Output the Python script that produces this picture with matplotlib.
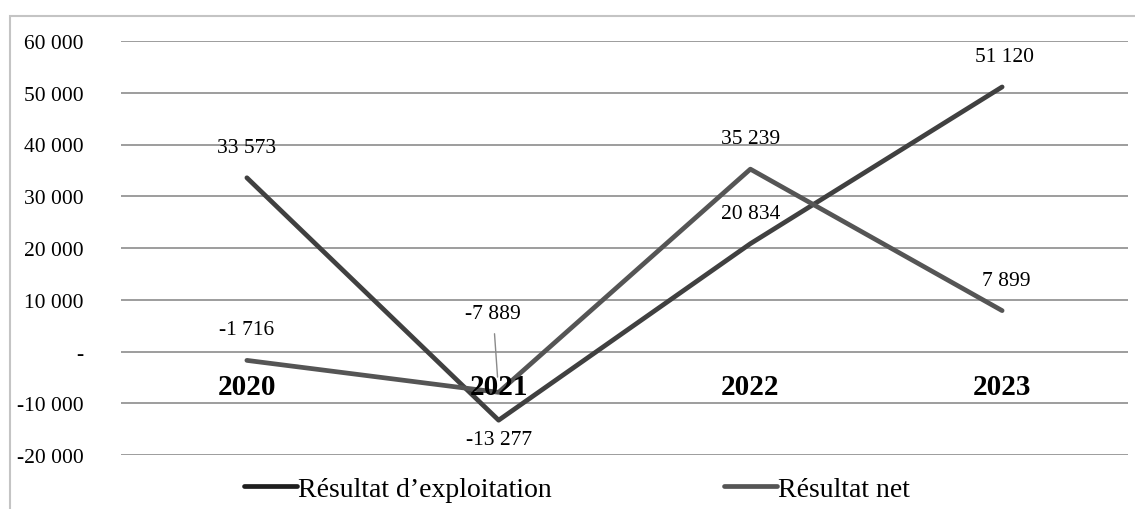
import matplotlib.pyplot as plt
from matplotlib.patches import Rectangle

# Data
years = ['2020', '2021', '2022', '2023']
res_exploitation = [33573, -13277, 20834, 51120]
res_net = [-1716, -7889, 35239, 7899]
y_ticks = [-20000, -10000, 0, 10000, 20000, 30000, 40000, 50000, 60000]


def fmt(v):
    # French style thousands separator, zero shown as a dash
    if v == 0:
        return '-'
    return f'{v:,}'.replace(',', ' ')


plt.rcParams['font.family'] = ['Liberation Serif', 'DejaVu Serif']

fig = plt.figure(figsize=(11.35, 5.1), dpi=100)
ax = fig.add_axes([121 / 1135, 54 / 510, 1007 / 1135, 414 / 510])

# light frame around the chart
fig.patches.append(Rectangle((10 / 1135, -0.1), 1.2, (510 - 17) / 510 + 0.1,
                             transform=fig.transFigure, fill=False,
                             edgecolor='#c4c4c4', lw=1.5))

x = list(range(len(years)))
ax.plot(x, res_exploitation, color='#404040', lw=3.4, solid_capstyle='round',
        label='Résultat d\u2019exploitation', zorder=3)
ax.plot(x, res_net, color='#555555', lw=3.4, solid_capstyle='round',
        label='Résultat net', zorder=3)

ax.set_xlim(-0.5, 3.5)
ax.set_ylim(-20000, 60000)
ax.set_yticks(y_ticks)
ax.set_yticklabels([fmt(v) for v in y_ticks], fontsize=15.5)
ax.tick_params(axis='y', length=0, pad=27)
ax.set_xticks([])
ax.grid(axis='y', color='#8c8c8c', lw=1.2)
ax.set_axisbelow(True)
for s in ax.spines.values():
    s.set_visible(False)

# year labels sitting just under the zero line
for i, yr in enumerate(years):
    ax.annotate(yr, (i, 0), xytext=(0, -25), textcoords='offset points',
                ha='center', va='center', fontsize=21, fontweight='bold',
                zorder=4)

# data labels
label_kw = dict(textcoords='offset points', ha='center', va='center',
                fontsize=15.5, zorder=5)
for i, v in enumerate(res_exploitation):
    dy = -14 if v < 0 else 22
    ax.annotate(fmt(v), (i, v), xytext=(2 if i == 3 else 0, dy), **label_kw)
for i, v in enumerate(res_net):
    if i == 1:
        ax.annotate(fmt(v), (i, v), xytext=(-4, 57),
                    arrowprops=dict(arrowstyle='-', color='#8a8a8a', lw=1,
                                    shrinkA=6, shrinkB=11),
                    **label_kw)
    else:
        ax.annotate(fmt(v), (i, v), xytext=(3 if i == 3 else 0, 22), **label_kw)

leg = fig.legend(loc='center', bbox_to_anchor=(577 / 1135, 1 - 490 / 510),
                 ncol=2, frameon=False, fontsize=20, handlelength=1.9,
                 handletextpad=0.05, columnspacing=6.2)
leg.get_lines()[0].set_color('#1e1e1e')
leg.get_lines()[1].set_color('#555555')

fig.savefig('out.png', dpi=100)
